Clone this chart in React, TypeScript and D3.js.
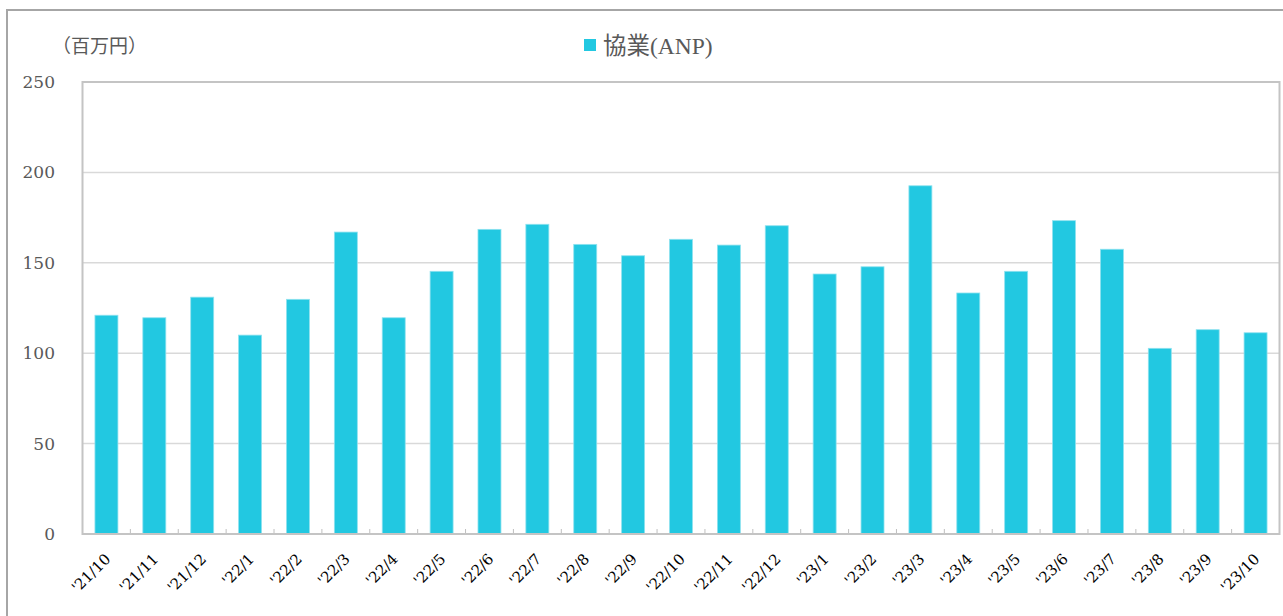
import React from "react";
import * as d3 from "d3";

const categories = [
  "'21/10", "'21/11", "'21/12", "'22/1", "'22/2", "'22/3", "'22/4", "'22/5",
  "'22/6", "'22/7", "'22/8", "'22/9", "'22/10", "'22/11", "'22/12",
  "'23/1", "'23/2", "'23/3", "'23/4", "'23/5", "'23/6", "'23/7", "'23/8",
  "'23/9", "'23/10",
];
const values = [
  121, 119.6, 131, 110, 129.8, 167, 119.6, 145.3,
  168.5, 171.3, 160.2, 153.9, 163, 159.8, 170.5,
  143.8, 147.8, 192.6, 133.3, 145.3, 173.3, 157.5, 102.7,
  113, 111.3,
];
const yTicks = [0, 50, 100, 150, 200, 250];
const seriesName = "協業(ANP)";
const unitLabel = "（百万円）";

const W = 1283;
const H = 616;
const plot = { left: 82.5, right: 1279.5, top: 82, bottom: 534 };
const barColor = "#22C8E1";

export default function App() {
  const x = d3
    .scaleBand<string>()
    .domain(categories)
    .range([plot.left, plot.right])
    .paddingInner(0.52)
    .paddingOuter(0.26);
  const y = d3.scaleLinear().domain([0, 250]).range([plot.bottom, plot.top]);
  const step = x.step();
  const boundaries = d3.range(1, categories.length).map((i) => plot.left + i * step);

  return (
    <svg
      width={W}
      height={H}
      style={{ position: "absolute", left: 0, top: 0, background: "#fff" }}
    >
      <rect x={7} y={10} width={1290} height={700} fill="#fff" stroke="#a6a6a6" strokeWidth={2} />
      {/* gridlines */}
      {yTicks.filter((t) => t > 0 && t < 250).map((t) => (
        <line key={t} x1={plot.left} x2={plot.right} y1={y(t)} y2={y(t)} stroke="#d9d9d9" strokeWidth={1.5} />
      ))}
      {/* bars */}
      {categories.map((c, i) => (
        <rect
          key={c}
          x={x(c)}
          y={y(values[i])}
          width={x.bandwidth()}
          height={plot.bottom - y(values[i])}
          fill={barColor}
          stroke="#8fe2ef"
          strokeWidth={0.8}
        />
      ))}
      {/* x ticks */}
      {boundaries.map((bx, i) => (
        <line key={i} x1={bx} x2={bx} y1={plot.bottom} y2={plot.bottom - 5} stroke="#bfbfbf" strokeWidth={1} />
      ))}
      {/* plot frame */}
      <rect
        x={plot.left}
        y={plot.top}
        width={plot.right - plot.left}
        height={plot.bottom - plot.top}
        fill="none"
        stroke="#c4c4c4"
        strokeWidth={2}
      />
      {/* y labels */}
      {yTicks.map((t) => (
        <text
          key={t}
          x={55}
          y={y(t)}
          dy="0.35em"
          textAnchor="end"
          fontFamily="'DejaVu Serif', serif"
          fontSize={17}
          fill="#595959"
        >
          {t}
        </text>
      ))}
      {/* x labels */}
      {categories.map((c) => {
        const cx = (x(c) as number) + x.bandwidth() / 2 + 5;
        const cy = plot.bottom + 26;
        return (
          <text
            key={c}
            x={cx}
            y={cy}
            textAnchor="end"
            transform={`rotate(-45 ${cx} ${cy})`}
            fontFamily="'DejaVu Serif', serif"
            fontSize={15}
            fill="#000"
          >
            {c}
          </text>
        );
      })}
      {/* unit label */}
      <text x={52} y={53} fontFamily="'Noto Sans CJK JP', sans-serif" fontSize={19} fill="#595959">
        {unitLabel}
      </text>
      {/* legend */}
      <rect x={584} y={39} width={12} height={12} fill={barColor} />
      <text
        x={603}
        y={54}
        fontFamily="'Liberation Serif', 'Noto Sans CJK JP', serif"
        fontSize={23.5}
        fill="#595959"
      >
        {seriesName}
      </text>
    </svg>
  );
}
